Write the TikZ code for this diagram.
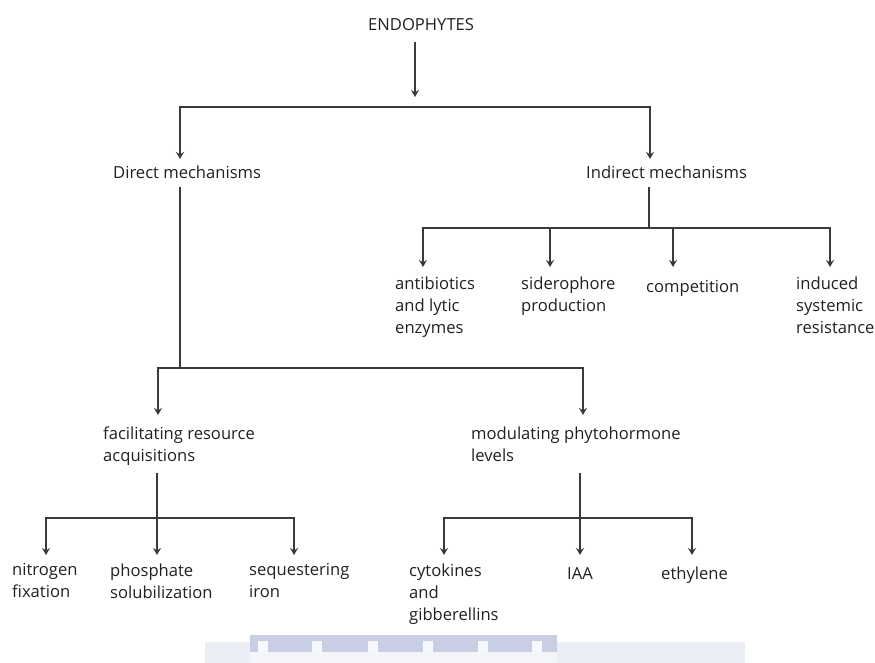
\documentclass[tikz,border=0pt]{standalone}
\usepackage{fontspec}
\setmainfont{Open Sans}
\usetikzlibrary{arrows.meta,positioning}
\definecolor{txt}{RGB}{35,31,32}
\definecolor{lnk}{RGB}{58,58,58}
\definecolor{wmark}{RGB}{200,206,228}
\tikzset{
  lbl/.style={anchor=north west, yshift=15.4pt, inner sep=0pt, align=left,
    text=txt, font=\fontsize{16.6}{22}\selectfont,
    execute at begin node=\strut, execute at end node=\strut},
  link/.style={draw=lnk, line width=1.2pt},
  arr/.style={link, -{Stealth[length=7pt,width=8pt]}},
}
\begin{document}
\begin{tikzpicture}[x=1pt, y=-1pt]
    \useasboundingbox (0,0) rectangle (875,663);
    % watermark at the foot
    \fill[wmark!35] (205,642) rectangle (745,663);
    \fill[wmark] (250,635) rectangle (557,663);
    \foreach \c in {263,317,373,428,483,537}
        \fill[white!85!wmark] (\c-5,641) rectangle (\c+5,663);
    \fill[white!80!wmark] (250,652) rectangle (557,663);
    % labels (placed by the baseline of their first line)
    \node[lbl] (endo) at (368,30) {ENDOPHYTES};
    \node[lbl] (dir)  at (113,178) {Direct mechanisms};
    \node[lbl] (ind)  at (586,178) {Indirect mechanisms};
    \node[lbl] (anti) at (395,292) {antibiotics\\and lytic\\enzymes};
    \node[lbl] (sid)  at (521,292) {siderophore\\production};
    \node[lbl] (comp) at (646,292) {competition};
    \node[lbl] (isr)  at (796,292) {induced\\systemic\\resistance};
    \node[lbl] (fac)  at (103,442) {facilitating resource\\acquisitions};
    \node[lbl] (mod)  at (471,442) {modulating phytohormone\\levels};
    \node[lbl] (nit)  at (12,579)  {nitrogen\\fixation};
    \node[lbl] (phos) at (110,579) {phosphate\\solubilization};
    \node[lbl] (seq)  at (249,579) {sequestering\\iron};
    \node[lbl] (cyto) at (409,579) {cytokines\\and\\gibberellins};
    \node[lbl] (iaa)  at (567,579) {IAA};
    \node[lbl] (eth)  at (661,579) {ethylene};
    % junctions
    \coordinate (jT) at (415,107);
    \coordinate (jD) at (180,368);
    \coordinate (jI) at (649,228);
    \coordinate (jF) at (157,518);
    \coordinate (jM) at (580,518);
    % first level
    \draw[arr, shorten >=10pt] ([xshift=47pt,yshift=-5pt]endo.south west) -- (jT);
    \draw[arr] (jT) -| ([xshift=67pt,yshift=3.6pt]dir.north west);
    \draw[arr] (jT) -| ([xshift=64pt,yshift=3.6pt]ind.north west);
    % indirect
    \draw[link] ([xshift=63pt,yshift=-2.4pt]ind.south west) -- (jI);
    \draw[arr] (jI) -| ([xshift=28pt,yshift=9.6pt]anti.north west);
    \draw[arr] (jI) -| ([xshift=29pt,yshift=9.6pt]sid.north west);
    \draw[arr] (jI) -| ([xshift=27pt,yshift=9.6pt]comp.north west);
    \draw[arr] (jI) -| ([xshift=34pt,yshift=9.6pt]isr.north west);
    % direct
    \draw[link] ([xshift=67pt,yshift=-2.4pt]dir.south west) -- (jD);
    \draw[arr] (jD) -| ([xshift=55pt,yshift=11.6pt]fac.north west);
    \draw[arr] (jD) -| ([xshift=112pt,yshift=11.6pt]mod.north west);
    % resources
    \draw[link] ([xshift=54pt,yshift=-4.4pt]fac.south west) -- (jF);
    \draw[arr] (jF) -| ([xshift=34pt,yshift=8.6pt]nit.north west);
    \draw[arr] (jF) -| ([xshift=47pt,yshift=8.6pt]phos.north west);
    \draw[arr] (jF) -| ([xshift=45pt,yshift=8.6pt]seq.north west);
    % phytohormones
    \draw[link] ([xshift=109pt,yshift=-4.4pt]mod.south west) -- (jM);
    \draw[arr] (jM) -| ([xshift=35pt,yshift=8.6pt]cyto.north west);
    \draw[arr] (jM) -| ([xshift=13pt,yshift=8.6pt]iaa.north west);
    \draw[arr] (jM) -| ([xshift=31pt,yshift=8.6pt]eth.north west);
\end{tikzpicture}
\end{document}
